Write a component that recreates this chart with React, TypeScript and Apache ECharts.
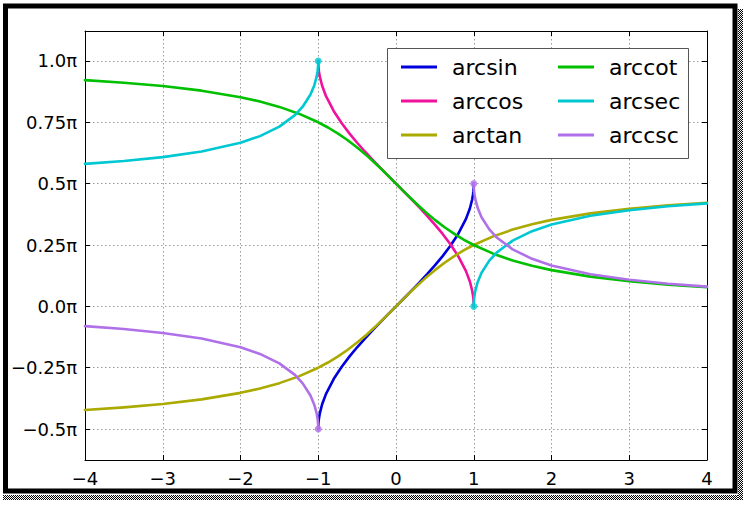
import React, { useEffect, useRef } from "react";
import * as echarts from "echarts";

// ---- tick labels ----
const X_TICKS = [-4, -3, -2, -1, 0, 1, 2, 3, 4];
const X_TICK_LABELS = ["−4", "−3", "−2", "−1", "0", "1", "2", "3", "4"];
const Y_TICKS = [-0.5, -0.25, 0, 0.25, 0.5, 0.75, 1.0];
const Y_TICK_LABELS = ["−0.5π", "−0.25π", "0.0π", "0.25π", "0.5π", "0.75π", "1.0π"];

// ---- series values (y in units of π) ----
const X_FULL = [-4, -3.5, -3, -2.5, -2, -1.75, -1.5, -1.25, -1, -0.875, -0.75, -0.625, -0.5, -0.375, -0.25, -0.125, 0,
  0.125, 0.25, 0.375, 0.5, 0.625, 0.75, 0.875, 1, 1.25, 1.5, 1.75, 2, 2.5, 3, 3.5, 4];
const ARCTAN = [-0.4220, -0.4114, -0.3976, -0.3789, -0.3524, -0.3348, -0.3128, -0.2852, -0.25, -0.2288, -0.2048, -0.1778, -0.1476, -0.1142, -0.0780, -0.0396, 0,
  0.0396, 0.0780, 0.1142, 0.1476, 0.1778, 0.2048, 0.2288, 0.25, 0.2852, 0.3128, 0.3348, 0.3524, 0.3789, 0.3976, 0.4114, 0.4220];
const ARCCOT = [0.9220, 0.9114, 0.8976, 0.8789, 0.8524, 0.8348, 0.8128, 0.7852, 0.75, 0.7288, 0.7048, 0.6778, 0.6476, 0.6142, 0.5780, 0.5396, 0.5,
  0.4604, 0.4220, 0.3858, 0.3524, 0.3222, 0.2952, 0.2712, 0.25, 0.2148, 0.1872, 0.1652, 0.1476, 0.1211, 0.1024, 0.0886, 0.0780];

const X_UNIT = [-1, -0.999, -0.995, -0.99, -0.98, -0.95, -0.9, -0.8, -0.7, -0.6, -0.5, -0.4, -0.3, -0.2, -0.1, 0,
  0.1, 0.2, 0.3, 0.4, 0.5, 0.6, 0.7, 0.8, 0.9, 0.95, 0.98, 0.99, 0.995, 0.999, 1];
const ARCSIN = [-0.5, -0.4858, -0.4682, -0.4549, -0.4362, -0.3989, -0.3564, -0.2952, -0.2468, -0.2048, -0.1667, -0.1310, -0.0970, -0.0641, -0.0319, 0,
  0.0319, 0.0641, 0.0970, 0.1310, 0.1667, 0.2048, 0.2468, 0.2952, 0.3564, 0.3989, 0.4362, 0.4549, 0.4682, 0.4858, 0.5];
const ARCCOS = [1, 0.9858, 0.9682, 0.9549, 0.9362, 0.8989, 0.8564, 0.7952, 0.7468, 0.7048, 0.6667, 0.6310, 0.5970, 0.5641, 0.5319, 0.5,
  0.4681, 0.4359, 0.4030, 0.3690, 0.3333, 0.2952, 0.2532, 0.2048, 0.1436, 0.1011, 0.0638, 0.0451, 0.0318, 0.0142, 0];

const X_NEG = [-4, -3.5, -3, -2.5, -2, -1.75, -1.5, -1.3, -1.2, -1.1, -1.05, -1.02, -1.01, -1.005, -1.001, -1];
const X_POS = [1, 1.001, 1.005, 1.01, 1.02, 1.05, 1.1, 1.2, 1.3, 1.5, 1.75, 2, 2.5, 3, 3.5, 4];
const ARCSEC_NEG = [0.5804, 0.5922, 0.6082, 0.6310, 0.6667, 0.6937, 0.7323, 0.7793, 0.8136, 0.8632, 0.9014, 0.9369, 0.9552, 0.9682, 0.9858, 1];
const ARCSEC_POS = [0, 0.0142, 0.0318, 0.0448, 0.0631, 0.0986, 0.1368, 0.1864, 0.2207, 0.2677, 0.3063, 0.3333, 0.3690, 0.3918, 0.4078, 0.4196];
const ARCCSC_NEG = [-0.0804, -0.0922, -0.1082, -0.1310, -0.1667, -0.1937, -0.2323, -0.2793, -0.3136, -0.3632, -0.4014, -0.4369, -0.4552, -0.4682, -0.4858, -0.5];
const ARCCSC_POS = [0.5, 0.4858, 0.4682, 0.4552, 0.4369, 0.4014, 0.3632, 0.3136, 0.2793, 0.2323, 0.1937, 0.1667, 0.1310, 0.1082, 0.0922, 0.0804];

const ARCSEC_ENDS_X = [-1, 1];
const ARCSEC_ENDS_Y = [1, 0];
const ARCCSC_ENDS_X = [1, -1];
const ARCCSC_ENDS_Y = [0.5, -0.5];

const LEGEND_COL1 = ["arcsin", "arccos", "arctan"];
const LEGEND_COL2 = ["arccot", "arcsec", "arccsc"];

const COLORS: Record<string, string> = {
  arcsin: "#0000dd",
  arccos: "#f0119c",
  arctan: "#aaaa00",
  arccot: "#00c000",
  arcsec: "#00c8d2",
  arccsc: "#b070e8",
};

const FONT = "DejaVu Sans";

const zip = (xs: number[], ys: number[]) => xs.map((x, i) => [x, ys[i]]);

const lineSeries = (name: string, xs: number[], ys: number[]) => ({
  type: "line",
  name,
  data: zip(xs, ys),
  showSymbol: false,
  symbol: "none",
  smooth: false,
  silent: true,
  color: COLORS[name],
  lineStyle: { color: COLORS[name], width: 2.6, join: "round", cap: "round" },
  z: 3,
});

const dotSeries = (name: string, color: string, xs: number[], ys: number[]) => ({
  type: "scatter",
  name,
  data: zip(xs, ys),
  symbol: "circle",
  symbolSize: 7,
  silent: true,
  itemStyle: { color },
  z: 4,
});

export default function App() {
  const ref = useRef<HTMLDivElement>(null);

  useEffect(() => {
    if (!ref.current) return;
    const chart = echarts.init(ref.current, undefined, { renderer: "svg" });

    const grid = { color: "#9a9a9a", type: [1.5, 2.5], width: 1 };

    const shadow: any[] = [];
    for (let i = 0; i < 5; i++) {
      shadow.push({
        type: "line",
        shape: { x1: 738.5 + i, y1: 9, x2: 738.5 + i, y2: 500 },
        style: { stroke: "#000", lineWidth: 1, lineDash: [1, 1], lineDashOffset: i % 2 },
        silent: true,
      });
      shadow.push({
        type: "line",
        shape: { x1: 3, y1: 495.5 + i, x2: 738, y2: 495.5 + i },
        style: { stroke: "#000", lineWidth: 1, lineDash: [1, 1], lineDashOffset: i % 2 },
        silent: true,
      });
    }

    const legendCommon = {
      orient: "vertical",
      top: 56,
      padding: 0,
      itemGap: 12,
      itemWidth: 36,
      itemHeight: 3,
      icon: "rect",
      selectedMode: false,
      z: 30,
      textStyle: {
        fontSize: 22,
        lineHeight: 22,
        fontFamily: FONT,
        color: "#000",
        padding: [0, 0, 0, 10],
      },
    };

    chart.setOption({
      animation: false,
      backgroundColor: "#fff",
      textStyle: { fontFamily: FONT },
      grid: { left: 85, right: 42, top: 31, bottom: 47, containLabel: false },
      legend: [
        { ...legendCommon, left: 401, data: LEGEND_COL1 },
        { ...legendCommon, left: 558, data: LEGEND_COL2 },
      ],
      xAxis: [
        {
          type: "value",
          position: "bottom",
          min: -4,
          max: 4,
          interval: 1,
          axisLine: { onZero: false, lineStyle: { color: "#000", width: 1 } },
          axisTick: { inside: true, length: 5, lineStyle: { color: "#000" } },
          axisLabel: {
            margin: 9,
            fontSize: 18,
            color: "#000",
            fontFamily: FONT,
            showMinLabel: true,
            showMaxLabel: true,
            formatter: (v: number) => {
              const i = X_TICKS.indexOf(v);
              return i >= 0 ? X_TICK_LABELS[i] : "";
            },
          },
          splitLine: { show: true, lineStyle: grid },
        },
        {
          type: "value",
          position: "top",
          min: -4,
          max: 4,
          interval: 1,
          axisLine: { onZero: false, lineStyle: { color: "#000", width: 1 } },
          axisTick: { inside: true, length: 5, lineStyle: { color: "#000" } },
          axisLabel: { show: false },
          splitLine: { show: false },
        },
      ],
      yAxis: [
        {
          type: "value",
          position: "left",
          min: -0.626,
          max: 1.122,
          axisLine: { onZero: false, show: true, lineStyle: { color: "#000", width: 1 } },
          axisTick: { show: true, inside: true, length: 5, lineStyle: { color: "#000" }, customValues: Y_TICKS },
          axisLabel: {
            margin: 8,
            fontSize: 18,
            color: "#000",
            fontFamily: FONT,
            customValues: Y_TICKS,
            formatter: (v: number) => {
              const i = Y_TICKS.findIndex((t) => Math.abs(t - v) < 1e-6);
              return i >= 0 ? Y_TICK_LABELS[i] : "";
            },
          },
          splitLine: { show: true, lineStyle: grid },
        },
        {
          type: "value",
          position: "right",
          min: -0.626,
          max: 1.122,
          axisLine: { onZero: false, show: true, lineStyle: { color: "#000", width: 1 } },
          axisTick: { show: true, inside: true, length: 5, lineStyle: { color: "#000" }, customValues: Y_TICKS },
          axisLabel: { show: false },
          splitLine: { show: false },
        },
      ],
      graphic: [
        {
          type: "rect",
          shape: { x: 387.5, y: 48.5, width: 301, height: 110 },
          style: { fill: "#fff", stroke: "#555", lineWidth: 1 },
          z: 20,
          silent: true,
        },
        {
          type: "rect",
          shape: { x: 5.5, y: 6, width: 729.5, height: 485 },
          style: { fill: "none", stroke: "#000", lineWidth: 5 },
          z: 40,
          silent: true,
        },
        ...shadow,
      ],
      series: [
        lineSeries("arcsin", X_UNIT, ARCSIN),
        lineSeries("arccos", X_UNIT, ARCCOS),
        lineSeries("arctan", X_FULL, ARCTAN),
        lineSeries("arccot", X_FULL, ARCCOT),
        lineSeries("arcsec", X_NEG, ARCSEC_NEG),
        lineSeries("arcsec", X_POS, ARCSEC_POS),
        lineSeries("arccsc", X_NEG, ARCCSC_NEG),
        lineSeries("arccsc", X_POS, ARCCSC_POS),
        dotSeries("arcsec-ends", COLORS.arcsec, ARCSEC_ENDS_X, ARCSEC_ENDS_Y),
        dotSeries("arccsc-ends", COLORS.arccsc, ARCCSC_ENDS_X, ARCCSC_ENDS_Y),
      ],
    });

    return () => chart.dispose();
  }, []);

  return (
    <div
      ref={ref}
      style={{ position: "fixed", left: 0, top: 0, width: 749, height: 507 }}
    />
  );
}
